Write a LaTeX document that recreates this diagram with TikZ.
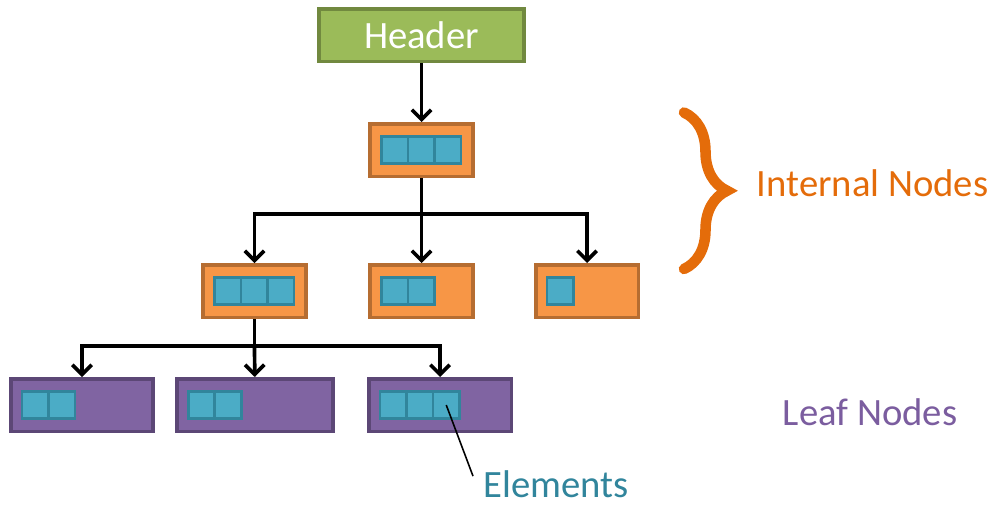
\documentclass[tikz,border=0pt]{standalone}
\usepackage{fontspec}
\setmainfont{Carlito}
\usetikzlibrary{positioning, arrows.meta, decorations.pathreplacing}

\definecolor{hdrfill}{HTML}{9BBB59}
\definecolor{hdrdraw}{HTML}{71893F}
\definecolor{intfill}{HTML}{F79646}
\definecolor{intdraw}{HTML}{B66D31}
\definecolor{leaffill}{HTML}{8064A2}
\definecolor{leafdraw}{HTML}{5C4776}
\definecolor{elfill}{HTML}{4BACC6}
\definecolor{eldraw}{HTML}{31859C}
\definecolor{inttext}{HTML}{E46C0A}
\definecolor{leaftext}{HTML}{7B5D9F}

\tikzset{
	header/.style={
		rectangle,
		draw=hdrdraw,
		fill=hdrfill,
		line width=2pt,
		minimum width=4.1cm,
		minimum height=1.05cm,
		text=white,
		font=\fontsize{22}{26}\selectfont,
	},
	internal/.style={
		rectangle,
		draw=intdraw,
		fill=intfill,
		line width=2pt,
		minimum width=2.05cm,
		minimum height=1.05cm,
	},
	leaf/.style={
		rectangle,
		draw=leafdraw,
		fill=leaffill,
		line width=2pt,
		minimum width=2.85cm,
		minimum height=1.05cm,
	},
	cell/.style={
		rectangle,
		draw=eldraw,
		fill=elfill,
		line width=1.6pt,
		outer sep=0pt,
		inner sep=0pt,
		minimum width=0.53cm,
		minimum height=0.55cm,
	},
	link/.style={
		line width=2.1pt,
		->,
	},
	label/.style={
		font=\fontsize{22}{26}\selectfont,
	},
}

\begin{document}
\begin{tikzpicture}[>={Straight Barb[length=5.5pt,width=11pt]}]
		\useasboundingbox (0,0) rectangle (19.84,-10.12);

		% Place nodes
		\node [header] (hdr) at (8.43,-0.70) {Header};
		\node [internal] (root) at (8.43,-3.00) {};

		\node [internal] (a) at (5.09,-5.82) {};
		\node [internal] (b) at (8.43,-5.82) {};
		\node [internal] (c) at (11.74,-5.82) {};

		\node [leaf] (l1) at (1.64,-8.10) {};
		\node [leaf, minimum width=3.12cm] (l2) at (5.10,-8.10) {};
		\node [leaf] (l3) at (8.80,-8.10) {};

		% elements inside each node
		\foreach \nd/\n in {root/3, a/3, b/2, c/1, l1/2, l2/2, l3/3}
			\foreach \i in {1,...,\n}
				\node [cell, anchor=west] (\nd-\i)
					at ([xshift={0.26cm+(\i-1)*0.53cm}]\nd.west) {};

		% links
		\draw [link] (hdr) -- (root);

		\coordinate [below=0.72cm of root.south] (j1);
		\draw [link, -] (root) -- (j1);
		\draw [link] (j1) -| (a);
		\draw [link] (j1) -- (b);
		\draw [link] (j1) -| (c);

		\coordinate [below=0.54cm of a.south] (j2);
		\draw [link, -] (a) -- (j2);
		\draw [link] (j2) -| (l1);
		\draw [link] (j2) -- (l2);
		\draw [link] (j2) -| (l3);

		% labels
		\node [label, text=inttext] (inner) at (17.45,-3.66) {Internal Nodes};
		\node [label, text=leaftext] (leaves) at (17.40,-8.24) {Leaf Nodes};
		\node [label, text=eldraw, anchor=west, inner sep=0pt] (elem) at (9.66,-9.68) {Elements};

		\draw [line width=0.9pt] (l3-3.center) -- ([xshift=-0.2cm,yshift=-0.12cm]elem.north west);

		\draw [inttext, line width=6pt, line cap=round, decorate,
			decoration={brace, amplitude=0.86cm}] (13.68,-2.25) -- (13.68,-5.38);

	\end{tikzpicture}
\end{document}
